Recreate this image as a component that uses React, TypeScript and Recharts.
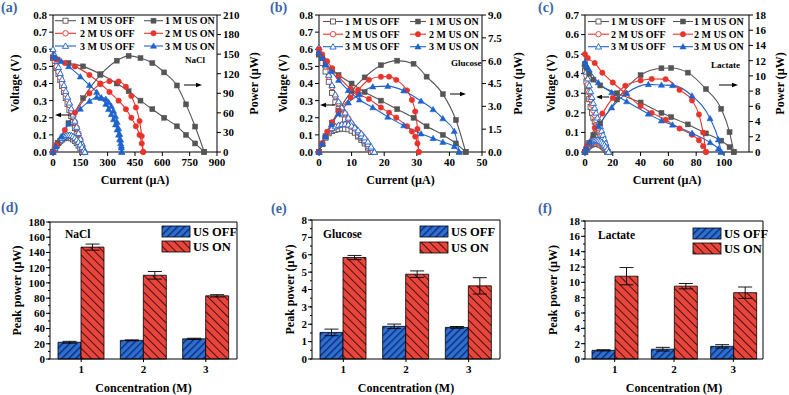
import React from 'react'
import { LineChart, Line, XAxis, YAxis, BarChart, Bar, ErrorBar, Label } from 'recharts'

const SERIF = '"Liberation Serif", "Times New Roman", serif'
const GREY = '#555555'
const RED = '#e8352c'
const BLUE = '#1f63cc'
const PANEL_BLUE = '#3d64a8'

// ---------- (a) NaCl: current (µA), voltage (V), power (µW) ----------
const naclOff1I = [0, 10, 20, 30, 40, 50, 60, 70, 80, 90, 100, 110, 120, 130, 140, 150, 160]
const naclOff1V = [0.55, 0.52, 0.49, 0.455, 0.42, 0.385, 0.35, 0.315, 0.28, 0.245, 0.21, 0.175, 0.14, 0.105, 0.07, 0.037, 0]
const naclOff1P = [0, 5.2, 9.8, 13.7, 16.8, 19.3, 21, 22.1, 22.4, 22.1, 21, 19.3, 16.8, 13.7, 9.8, 5.6, 0]
const naclOff2I = [0, 10, 20, 30, 40, 50, 60, 70, 80, 90, 100, 110, 120, 130, 140, 150, 160, 166]
const naclOff2V = [0.56, 0.53, 0.5, 0.468, 0.436, 0.404, 0.372, 0.34, 0.307, 0.274, 0.241, 0.208, 0.175, 0.142, 0.108, 0.074, 0.038, 0]
const naclOff2P = [0, 5.3, 10, 14, 17.4, 20.2, 22.3, 23.8, 24.6, 24.7, 24.1, 22.9, 21, 18.5, 15.1, 11.1, 6.1, 0]
const naclOff3I = [0, 10, 20, 30, 40, 50, 60, 70, 80, 90, 100, 110, 120, 130, 140, 150, 160, 170, 175]
const naclOff3V = [0.6, 0.565, 0.53, 0.495, 0.46, 0.425, 0.39, 0.356, 0.322, 0.288, 0.254, 0.218, 0.182, 0.146, 0.11, 0.076, 0.045, 0.018, 0]
const naclOff3P = [0, 5.65, 10.6, 14.9, 18.4, 21.3, 23.4, 24.9, 25.8, 25.9, 25.4, 24, 21.8, 19, 15.4, 11.4, 7.2, 3.1, 0]
const naclOn1I = [0, 25, 85, 165, 260, 350, 415, 480, 545, 610, 680, 730, 780, 830]
const naclOn1V = [0.55, 0.54, 0.52, 0.5, 0.455, 0.4, 0.355, 0.3, 0.25, 0.2, 0.15, 0.1, 0.05, 0]
const naclOn1P = [0, 13.5, 44.2, 82.5, 118.3, 140, 147.3, 144, 136.3, 122, 102, 73, 39, 0]
const naclOn2I = [0, 20, 65, 120, 200, 260, 310, 360, 400, 430, 455, 475, 487, 495]
const naclOn2V = [0.55, 0.54, 0.52, 0.5, 0.45, 0.4, 0.35, 0.3, 0.25, 0.2, 0.15, 0.1, 0.05, 0]
const naclOn2P = [0, 10.8, 33.8, 60, 90, 104, 108.5, 108, 100, 86, 68.3, 47.5, 24.4, 0]
const naclOn3I = [0, 15, 45, 86, 150, 200, 240, 265, 290, 305, 320, 332, 343, 352, 360, 366, 371, 375, 377]
const naclOn3V = [0.56, 0.55, 0.53, 0.5, 0.44, 0.39, 0.35, 0.315, 0.28, 0.25, 0.22, 0.19, 0.16, 0.13, 0.1, 0.075, 0.05, 0.025, 0]
const naclOn3P = [0, 8.3, 23.9, 43, 66, 78, 84, 83.5, 81.2, 76.3, 70.4, 63.1, 54.9, 45.8, 36, 27.5, 18.6, 9.4, 0]

// ---------- (b) Glucose ----------
const glucoseOff1I = [0, 1, 2, 3, 4, 5, 6, 7, 8, 9, 10, 11, 12, 13, 14, 15, 16]
const glucoseOff1V = [0.57, 0.52, 0.47, 0.41, 0.345, 0.29, 0.25, 0.22, 0.19, 0.165, 0.14, 0.115, 0.09, 0.07, 0.05, 0.025, 0]
const glucoseOff1P = [0, 0.52, 0.94, 1.23, 1.38, 1.45, 1.5, 1.54, 1.52, 1.49, 1.4, 1.27, 1.08, 0.91, 0.7, 0.38, 0]
const glucoseOff2I = [0, 1, 2, 3, 4, 5, 6, 7, 8, 9, 10, 11, 12, 13, 14, 15, 16, 16.5]
const glucoseOff2V = [0.6, 0.55, 0.5, 0.44, 0.38, 0.325, 0.285, 0.255, 0.225, 0.195, 0.165, 0.14, 0.112, 0.088, 0.062, 0.036, 0.012, 0]
const glucoseOff2P = [0, 0.55, 1, 1.32, 1.52, 1.63, 1.71, 1.79, 1.8, 1.76, 1.65, 1.54, 1.34, 1.14, 0.87, 0.54, 0.19, 0]
const glucoseOff3I = [0, 1, 2, 3, 4, 5, 6, 7, 8, 9, 10, 11, 12, 13, 14, 15, 16, 17]
const glucoseOff3V = [0.61, 0.56, 0.51, 0.45, 0.39, 0.335, 0.295, 0.26, 0.23, 0.2, 0.172, 0.145, 0.118, 0.093, 0.068, 0.045, 0.022, 0]
const glucoseOff3P = [0, 0.56, 1.02, 1.35, 1.56, 1.68, 1.77, 1.82, 1.84, 1.8, 1.72, 1.6, 1.42, 1.21, 0.95, 0.68, 0.35, 0]
const glucoseOn1I = [0, 1, 2, 4, 6, 10, 14, 19, 24, 29, 33, 38, 42, 45]
const glucoseOn1V = [0.57, 0.55, 0.52, 0.48, 0.45, 0.4, 0.35, 0.3, 0.25, 0.2, 0.15, 0.1, 0.05, 0]
const glucoseOn1P = [0, 0.55, 1.04, 1.92, 2.7, 4, 4.9, 5.7, 6, 5.8, 4.95, 3.8, 2.1, 0]
const glucoseOn2I = [0, 1, 2.5, 4, 6, 9.7, 12, 15.3, 19, 21.5, 23.7, 27, 28.5, 29.5, 30.2, 30.6]
const glucoseOn2V = [0.6, 0.57, 0.53, 0.49, 0.44, 0.37, 0.34, 0.31, 0.26, 0.23, 0.2, 0.15, 0.12, 0.09, 0.05, 0]
const glucoseOn2P = [0, 0.57, 1.33, 1.96, 2.64, 3.59, 4.08, 4.74, 4.94, 4.95, 4.74, 4.05, 3.42, 2.66, 1.51, 0]
const glucoseOn3I = [0, 1, 2, 3.8, 6, 9, 12.4, 16.5, 21.1, 26, 31.3, 35, 38, 41.5, 43]
const glucoseOn3V = [0.58, 0.55, 0.51, 0.47, 0.42, 0.36, 0.305, 0.26, 0.205, 0.155, 0.107, 0.08, 0.058, 0.033, 0]
const glucoseOn3P = [0, 0.55, 1.02, 1.79, 2.52, 3.24, 3.78, 4.29, 4.33, 4.03, 3.35, 2.8, 2.2, 1.37, 0]

// ---------- (c) Lactate ----------
const lactateOff1I = [0, 1, 2, 3, 4, 5, 6, 7, 8, 9, 10, 11, 12, 13, 14, 15, 16]
const lactateOff1V = [0.42, 0.36, 0.31, 0.27, 0.23, 0.2, 0.175, 0.155, 0.135, 0.115, 0.1, 0.085, 0.068, 0.052, 0.035, 0.018, 0]
const lactateOff1P = [0, 0.36, 0.62, 0.81, 0.92, 1, 1.05, 1.09, 1.08, 1.04, 1, 0.94, 0.82, 0.68, 0.49, 0.27, 0]
const lactateOff2I = [0, 1, 2, 3, 4, 5, 6, 7, 8, 9, 10, 11, 12, 13, 14, 15, 16, 16.5]
const lactateOff2V = [0.44, 0.39, 0.345, 0.305, 0.27, 0.24, 0.212, 0.187, 0.163, 0.14, 0.12, 0.1, 0.082, 0.064, 0.046, 0.028, 0.01, 0]
const lactateOff2P = [0, 0.39, 0.69, 0.92, 1.08, 1.2, 1.27, 1.31, 1.3, 1.26, 1.2, 1.1, 0.98, 0.83, 0.64, 0.42, 0.16, 0]
const lactateOff3I = [0, 1, 2, 3, 4, 5, 6, 7, 8, 9, 10, 11, 12, 13, 14, 15, 16, 17]
const lactateOff3V = [0.45, 0.41, 0.375, 0.34, 0.31, 0.28, 0.25, 0.225, 0.2, 0.175, 0.152, 0.13, 0.108, 0.087, 0.066, 0.045, 0.022, 0]
const lactateOff3P = [0, 0.41, 0.75, 1.02, 1.24, 1.4, 1.5, 1.58, 1.6, 1.58, 1.52, 1.43, 1.3, 1.13, 0.92, 0.68, 0.35, 0]
const lactateOn1I = [0, 1, 3, 6, 11, 23, 40, 55, 62, 74, 87, 98, 104, 107]
const lactateOn1V = [0.45, 0.43, 0.4, 0.37, 0.34, 0.3, 0.253, 0.2, 0.178, 0.141, 0.095, 0.058, 0.025, 0]
const lactateOn1P = [0, 0.43, 1.2, 2.22, 3.74, 6.9, 10.1, 11, 11.04, 10.43, 8.27, 5.68, 2.6, 0]
const lactateOn2I = [0, 2, 7, 12.5, 20, 29, 40, 48, 58, 68, 77, 82, 85, 87]
const lactateOn2V = [0.5, 0.48, 0.455, 0.405, 0.355, 0.3, 0.235, 0.2, 0.165, 0.12, 0.088, 0.06, 0.03, 0]
const lactateOn2P = [0, 0.96, 3.19, 5.06, 7.1, 8.7, 9.4, 9.6, 9.57, 8.16, 6.78, 4.92, 2.55, 0]
const lactateOn3I = [0, 1, 3, 9.6, 19.2, 30, 45.6, 55, 63, 77, 90, 96, 98]
const lactateOn3V = [0.46, 0.44, 0.42, 0.355, 0.304, 0.258, 0.195, 0.16, 0.139, 0.096, 0.049, 0.017, 0]
const lactateOn3P = [0, 0.44, 1.26, 3.41, 5.84, 7.74, 8.89, 8.8, 8.76, 7.39, 4.41, 1.63, 0]

// ---------- axis ticks ----------
const naclCurrentTicks = [0, 150, 300, 450, 600, 750, 900]
const glucoseCurrentTicks = [0, 10, 20, 30, 40, 50]
const lactateCurrentTicks = [0, 20, 40, 60, 80, 100]
const voltTicks8 = [0, 0.1, 0.2, 0.3, 0.4, 0.5, 0.6, 0.7, 0.8]
const voltTicks7 = [0, 0.1, 0.2, 0.3, 0.4, 0.5, 0.6, 0.7]
const naclPowerTicks = [0, 30, 60, 90, 120, 150, 180, 210]
const glucosePowerTicks = [0, 1.5, 3, 4.5, 6, 7.5, 9]
const lactatePowerTicks = [0, 2, 4, 6, 8, 10, 12, 14, 16, 18]

// ---------- peak power bars ----------
const concentrations = ['1', '2', '3']
const naclOff = [22, 24.5, 26.5]
const naclOffErr = [1.2, 0.6, 0.8]
const naclOn = [147, 110, 83]
const naclOnErr = [4, 5, 1.5]
const glucoseOff = [1.53, 1.88, 1.82]
const glucoseOffErr = [0.19, 0.13, 0.05]
const glucoseOn = [5.84, 4.88, 4.21]
const glucoseOnErr = [0.12, 0.19, 0.47]
const lactateOff = [1.13, 1.28, 1.65]
const lactateOffErr = [0.08, 0.24, 0.22]
const lactateOn = [10.8, 9.5, 8.65]
const lactateOnErr = [1.13, 0.35, 0.74]
const naclPeakTicks = [0, 20, 40, 60, 80, 100, 120, 140, 160, 180]
const glucosePeakTicks = [0, 1, 2, 3, 4, 5, 6, 7, 8]
const lactatePeakTicks = [0, 2, 4, 6, 8, 10, 12, 14, 16, 18]

type Shape = 'square' | 'circle' | 'triangle'
type Curve = { name: string; color: string; shape: Shape; open: boolean; i: number[]; v: number[]; p: number[] }

const makeCurves = (s: number[][]): Curve[] => {
  const names = ['1 M US OFF', '2 M US OFF', '3 M US OFF', '1 M US ON', '2 M US ON', '3 M US ON']
  const colors = [GREY, RED, BLUE]
  const shapes: Shape[] = ['square', 'circle', 'triangle']
  return names.map((name, k) => ({
    name,
    color: colors[k % 3],
    shape: shapes[k % 3],
    open: k < 3,
    i: s[k * 3],
    v: s[k * 3 + 1],
    p: s[k * 3 + 2],
  }))
}

const naclCurves = makeCurves([
  naclOff1I, naclOff1V, naclOff1P, naclOff2I, naclOff2V, naclOff2P, naclOff3I, naclOff3V, naclOff3P,
  naclOn1I, naclOn1V, naclOn1P, naclOn2I, naclOn2V, naclOn2P, naclOn3I, naclOn3V, naclOn3P,
])
const glucoseCurves = makeCurves([
  glucoseOff1I, glucoseOff1V, glucoseOff1P, glucoseOff2I, glucoseOff2V, glucoseOff2P, glucoseOff3I, glucoseOff3V, glucoseOff3P,
  glucoseOn1I, glucoseOn1V, glucoseOn1P, glucoseOn2I, glucoseOn2V, glucoseOn2P, glucoseOn3I, glucoseOn3V, glucoseOn3P,
])
const lactateCurves = makeCurves([
  lactateOff1I, lactateOff1V, lactateOff1P, lactateOff2I, lactateOff2V, lactateOff2P, lactateOff3I, lactateOff3V, lactateOff3P,
  lactateOn1I, lactateOn1V, lactateOn1P, lactateOn2I, lactateOn2V, lactateOn2P, lactateOn3I, lactateOn3V, lactateOn3P,
])

const barRows = (off: number[], offErr: number[], on: number[], onErr: number[]) =>
  concentrations.map((c, k) => ({ c, off: off[k], offErr: offErr[k], on: on[k], onErr: onErr[k] }))

const naclBars = barRows(naclOff, naclOffErr, naclOn, naclOnErr)
const glucoseBars = barRows(glucoseOff, glucoseOffErr, glucoseOn, glucoseOnErr)
const lactateBars = barRows(lactateOff, lactateOffErr, lactateOn, lactateOnErr)

const tickFont = { fontSize: 11, fontWeight: 700, fill: '#000', fontFamily: SERIF }
const titleFont = { fontSize: 12, fontWeight: 700, fill: '#000', fontFamily: SERIF }

type MarkProps = { cx?: number; cy?: number; shape: Shape; color: string; open: boolean; size?: number }

const Mark = ({ cx, cy, shape, color, open, size = 2.5 }: MarkProps) => {
  if (cx == null || cy == null || isNaN(cx) || isNaN(cy)) return null
  const fill = open ? '#ffffff' : color
  const sw = open ? 0.9 : 0.5
  if (shape === 'square')
    return <rect x={cx - size} y={cy - size} width={size * 2} height={size * 2} fill={fill} stroke={color} strokeWidth={sw} />
  if (shape === 'circle') return <circle cx={cx} cy={cy} r={size + 0.2} fill={fill} stroke={color} strokeWidth={sw} />
  const h = size * 1.25
  return (
    <polygon
      points={`${cx},${cy - h} ${cx + h},${cy + h * 0.75} ${cx - h},${cy + h * 0.75}`}
      fill={fill}
      stroke={color}
      strokeWidth={sw}
    />
  )
}

const toPts = (xs: number[], ys: number[]) => xs.map((x, k) => ({ i: x, y: ys[k] }))

type IvProps = {
  left: number
  curves: Curve[]
  margin: { top: number; right: number; bottom: number; left: number }
  vW: number
  pW: number
  xMax: number
  xTicks: number[]
  vMax: number
  vTicks: number[]
  pMax: number
  pTicks: number[]
  pDigits: number
  vOff: number
  pOff: number
}

function IvPanel(props: IvProps) {
  const { left, curves, margin, vW, pW, xMax, xTicks, vMax, vTicks, pMax, pTicks, pDigits, vOff, pOff } = props
  return (
    <div style={{ position: 'absolute', left, top: 0 }}>
      <LineChart width={263} height={200} margin={margin}>
        <XAxis
          dataKey="i"
          type="number"
          domain={[0, xMax]}
          ticks={xTicks}
          interval={0}
          height={30}
          stroke="#000"
          tick={tickFont}
          tickSize={4}
          tickMargin={2}
        >
          <Label value="Current (µA)" position="insideBottom" offset={-2} {...titleFont} />
        </XAxis>
        <XAxis xAxisId="top" orientation="top" type="number" domain={[0, 1]} height={1} tick={false} tickLine={false} stroke="#000" />
        <YAxis
          yAxisId="v"
          type="number"
          domain={[0, vMax]}
          ticks={vTicks}
          interval={0}
          width={vW}
          stroke="#000"
          tick={tickFont}
          tickSize={4}
          tickMargin={2}
          tickFormatter={(t: number) => t.toFixed(1)}
        >
          <Label value="Voltage (V)" angle={-90} position="insideLeft" offset={vOff} style={{ textAnchor: 'middle' }} {...titleFont} />
        </YAxis>
        <YAxis
          yAxisId="p"
          orientation="right"
          type="number"
          domain={[0, pMax]}
          ticks={pTicks}
          interval={0}
          width={pW}
          stroke="#000"
          tick={tickFont}
          tickSize={4}
          tickMargin={2}
          tickFormatter={(t: number) => t.toFixed(pDigits)}
        >
          <Label value="Power (µW)" angle={-90} position="insideRight" offset={pOff} style={{ textAnchor: 'middle' }} {...titleFont} />
        </YAxis>
        {curves.flatMap((c) =>
          (['v', 'p'] as const).map((kind) => {
            const id = `${c.name}-${kind}`
            return (
              <Line
                key={id}
                data={toPts(c.i, kind === 'v' ? c.v : c.p)}
                dataKey="y"
                yAxisId={kind}
                type={c.open ? 'linear' : 'monotone'}
                stroke={c.color}
                strokeWidth={1.1}
                activeDot={false}
                isAnimationActive={false}
                dot={(d: any) => (
                  <Mark key={`${id}-${d.index}`} cx={d.cx} cy={d.cy} shape={c.shape} color={c.color} open={c.open} />
                )}
              />
            )
          })
        )}
      </LineChart>
    </div>
  )
}

// left axis ticks of the bar panels: labelled majors plus unlabelled minors
const withMinors = (ticks: number[]) =>
  ticks.flatMap((t, k) => (k === 0 ? [t] : [(ticks[k - 1] + t) / 2, t]))

const YTick = ({ x, y, payload, majors }: any) => {
  const ax = x + 4
  if (!majors.includes(payload.value)) return <g />
  return (
    <g>
      <line x1={ax} x2={ax - 4} y1={y} y2={y} stroke="#000" />
      <text x={ax - 5} y={y} dy="0.35em" textAnchor="end" {...tickFont}>
        {payload.value}
      </text>
    </g>
  )
}

type BarProps = {
  left: number
  data: ReturnType<typeof barRows>
  margin: { top: number; right: number; bottom: number; left: number }
  yW: number
  yTicks: number[]
  titleOff: number
}

function BarPanel({ left, data, margin, yW, yTicks, titleOff }: BarProps) {
  const yMax = yTicks[yTicks.length - 1]
  return (
    <div style={{ position: 'absolute', left, top: 200 }}>
      <BarChart width={263} height={195} margin={margin} data={data} barGap={0} barSize={23}>
        <XAxis dataKey="c" height={30} stroke="#000" tick={tickFont} tickSize={3} tickMargin={3}>
          <Label value="Concentration (M)" position="insideBottom" offset={-3} {...titleFont} />
        </XAxis>
        <XAxis xAxisId="top" dataKey="c" orientation="top" height={1} tick={false} tickLine={false} stroke="#000" />
        <YAxis
          yAxisId="l"
          type="number"
          domain={[0, yMax]}
          ticks={withMinors(yTicks)}
          interval={0}
          width={yW}
          stroke="#000"
          tickSize={2}
          tickMargin={2}
          tick={(p: any) => <YTick {...p} majors={yTicks} />}
        >
          <Label value="Peak power (µW)" angle={-90} position="insideLeft" offset={titleOff} style={{ textAnchor: 'middle' }} {...titleFont} />
        </YAxis>
        <YAxis yAxisId="r" orientation="right" type="number" domain={[0, 1]} width={1} tick={false} tickLine={false} stroke="#000" />
        <Bar yAxisId="l" dataKey="off" fill="url(#hatchOff)" stroke="#000" strokeWidth={0.8} isAnimationActive={false}>
          <ErrorBar dataKey="offErr" width={7} stroke="#000" strokeWidth={0.9} />
        </Bar>
        <Bar yAxisId="l" dataKey="on" fill="url(#hatchOn)" stroke="#000" strokeWidth={0.8} isAnimationActive={false}>
          <ErrorBar dataKey="onErr" width={7} stroke="#000" strokeWidth={0.9} />
        </Bar>
      </BarChart>
    </div>
  )
}

const PatternDefs = () => (
  <svg width={0} height={0} style={{ position: 'absolute' }}>
    <defs>
      <pattern id="hatchOff" patternUnits="userSpaceOnUse" width="5" height="5" patternTransform="rotate(45)">
        <rect width="5" height="5" fill="#2e6fd6" />
        <line x1="0.7" y1="0" x2="0.7" y2="5" stroke="#0e2d6b" strokeWidth="1.4" />
      </pattern>
      <pattern id="hatchOn" patternUnits="userSpaceOnUse" width="6" height="6" patternTransform="rotate(-45)">
        <rect width="6" height="6" fill="#e8453c" />
        <line x1="0.5" y1="0" x2="0.5" y2="6" stroke="#3a0b0b" strokeWidth="0.9" />
      </pattern>
    </defs>
  </svg>
)

const LegendItem = ({ x1, x2, tx, y, c }: { x1: number; x2: number; tx: number; y: number; c: Curve }) => (
  <g>
    <line x1={x1} x2={x2} y1={y} y2={y} stroke={c.color} strokeWidth={1.1} />
    <Mark cx={(x1 + x2) / 2} cy={y} shape={c.shape} color={c.color} open={c.open} />
    <text x={tx} y={y} dy="0.35em" fontSize={10} fontWeight={700} fontFamily={SERIF} fill="#000">
      {c.name}
    </text>
  </g>
)

const CurveLegend = ({ curves, lx, rx, rows }: { curves: Curve[]; lx: number[]; rx: number[]; rows: number[] }) => (
  <g>
    {curves.map((c, k) => {
      const col = k < 3 ? lx : rx
      return <LegendItem key={c.name} x1={col[0]} x2={col[1]} tx={col[2]} y={rows[k % 3]} c={c} />
    })}
  </g>
)

const Arrow = ({ x1, x2, y }: { x1: number; x2: number; y: number }) => {
  const d = x2 > x1 ? 1 : -1
  return (
    <g>
      <line x1={x1} x2={x2 - d * 4} y1={y} y2={y} stroke="#000" strokeWidth={1} />
      <polygon points={`${x2},${y} ${x2 - d * 6},${y - 2.3} ${x2 - d * 6},${y + 2.3}`} fill="#000" />
    </g>
  )
}

const BarLegend = ({ x, y1, y2 }: { x: number; y1: number; y2: number }) => (
  <g>
    <rect x={x} y={y1} width={28} height={11} fill="url(#hatchOff)" stroke="#000" strokeWidth={0.8} />
    <text x={x + 31} y={y1 + 5.5} dy="0.35em" fontSize={12.5} fontWeight={700} fontFamily={SERIF} fill="#000">
      US OFF
    </text>
    <rect x={x} y={y2} width={28} height={11} fill="url(#hatchOn)" stroke="#000" strokeWidth={0.8} />
    <text x={x + 31} y={y2 + 5.5} dy="0.35em" fontSize={12.5} fontWeight={700} fontFamily={SERIF} fill="#000">
      US ON
    </text>
  </g>
)

const PanelTag = ({ x, y, t }: { x: number; y: number; t: string }) => (
  <text x={x} y={y} fontSize={14} fontWeight={700} fontFamily={SERIF} fill={PANEL_BLUE}>
    {t}
  </text>
)

const Note = ({ x, y, t, size }: { x: number; y: number; t: string; size: number }) => (
  <text x={x} y={y} fontSize={size} fontWeight={700} fontFamily={SERIF} fill="#000">
    {t}
  </text>
)

const Overlay = () => (
  <svg width={789} height={395} style={{ position: 'absolute', left: 0, top: 0, pointerEvents: 'none' }}>
    <PanelTag x={1} y={12} t="(a)" />
    <PanelTag x={270} y={12} t="(b)" />
    <PanelTag x={538} y={12} t="(c)" />
    <PanelTag x={1} y={212} t="(d)" />
    <PanelTag x={271} y={213} t="(e)" />
    <PanelTag x={538} y={213} t="(f)" />

    <CurveLegend curves={naclCurves} lx={[55, 76, 80]} rx={[144, 163, 165]} rows={[20.7, 33.3, 46]} />
    <CurveLegend curves={glucoseCurves} lx={[323, 343, 345]} rx={[410, 426, 429]} rows={[21.5, 34.2, 46.7]} />
    <CurveLegend curves={lactateCurves} lx={[588, 609, 611]} rx={[673, 693, 694]} rows={[21.5, 34.2, 46.7]} />

    <Note x={185} y={63} t="NaCl" size={9} />
    <Note x={451} y={66} t="Glucose" size={9} />
    <Note x={711} y={68} t="Lactate" size={9} />
    <Arrow x1={71} x2={55} y={115} />
    <Arrow x1={184} x2={202} y={85} />
    <Arrow x1={335} x2={320} y={105} />
    <Arrow x1={450} x2={466} y={94} />
    <Arrow x1={609} x2={596} y={97} />
    <Arrow x1={719} x2={738} y={85} />

    <Note x={65} y={238} t="NaCl" size={11.5} />
    <Note x={323} y={238} t="Glucose" size={11.5} />
    <Note x={598} y={239} t="Lactate" size={11.5} />
    <BarLegend x={162} y1={226} y2={241} />
    <BarLegend x={420} y1={226} y2={242} />
    <BarLegend x={693} y1={228} y2={243} />
  </svg>
)

export default function App() {
  return (
    <div style={{ position: 'absolute', left: 0, top: 0, width: 789, height: 395, background: '#fff', fontFamily: SERIF }}>
      <PatternDefs />
      <IvPanel
        left={0}
        curves={naclCurves}
        margin={{ top: 14, right: 10, bottom: 18, left: 13 }}
        vW={40}
        pW={36}
        xMax={900}
        xTicks={naclCurrentTicks}
        vMax={0.8}
        vTicks={voltTicks8}
        pMax={210}
        pTicks={naclPowerTicks}
        pDigits={0}
        vOff={1.5}
        pOff={-1}
      />
      <IvPanel
        left={263}
        curves={glucoseCurves}
        margin={{ top: 14, right: 8, bottom: 18, left: 16 }}
        vW={40}
        pW={36}
        xMax={50}
        xTicks={glucoseCurrentTicks}
        vMax={0.8}
        vTicks={voltTicks8}
        pMax={9}
        pTicks={glucosePowerTicks}
        pDigits={1}
        vOff={4}
        pOff={0.5}
      />
      <IvPanel
        left={526}
        curves={lactateCurves}
        margin={{ top: 14, right: 10, bottom: 18, left: 19 }}
        vW={40}
        pW={30}
        xMax={118}
        xTicks={lactateCurrentTicks}
        vMax={0.7}
        vTicks={voltTicks7}
        pMax={18}
        pTicks={lactatePowerTicks}
        pDigits={0}
        vOff={6}
        pOff={-1}
      />
      <BarPanel left={0} data={naclBars} margin={{ top: 21, right: 25, bottom: 6, left: 14 }} yW={36} yTicks={naclPeakTicks} titleOff={3} />
      <BarPanel left={263} data={glucoseBars} margin={{ top: 19, right: 25, bottom: 6, left: 13 }} yW={36} yTicks={glucosePeakTicks} titleOff={14} />
      <BarPanel left={526} data={lactateBars} margin={{ top: 20, right: 25, bottom: 6, left: 23 }} yW={36} yTicks={lactatePeakTicks} titleOff={4} />
      <Overlay />
    </div>
  )
}
